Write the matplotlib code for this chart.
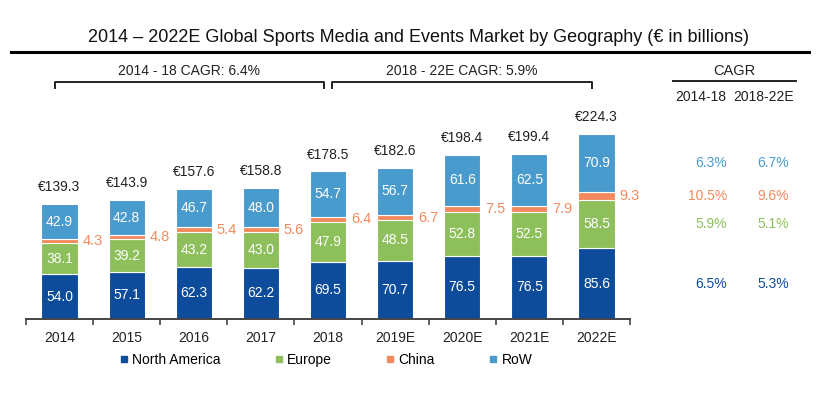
import matplotlib.pyplot as plt
from matplotlib.lines import Line2D
import matplotlib.transforms as mtransforms

plt.rcParams['font.family'] = ['Liberation Sans', 'DejaVu Sans']

years = ["2014", "2015", "2016", "2017", "2018", "2019E", "2020E", "2021E", "2022E"]
north_america = [54.0, 57.1, 62.3, 62.2, 69.5, 70.7, 76.5, 76.5, 85.6]
europe = [38.1, 39.2, 43.2, 43.0, 47.9, 48.5, 52.8, 52.5, 58.5]
china = [4.3, 4.8, 5.4, 5.6, 6.4, 6.7, 7.5, 7.9, 9.3]
row = [42.9, 42.8, 46.7, 48.0, 54.7, 56.7, 61.6, 62.5, 70.9]
totals = [139.3, 143.9, 157.6, 158.8, 178.5, 182.6, 198.4, 199.4, 224.3]

cagr_1418 = {"RoW": "6.3%", "China": "10.5%", "Europe": "5.9%", "North America": "6.5%"}
cagr_1822 = {"RoW": "6.7%", "China": "9.6%", "Europe": "5.1%", "North America": "5.3%"}

c_na = "#0D4C9B"
c_eu = "#8DC05B"
c_cn = "#F28A5E"
c_row = "#4A9BCD"

W, H = 838, 394
fig = plt.figure(figsize=(W / 100, H / 100), dpi=100)
# axes: baseline at y=319px, x from 26 to 630px
ax = fig.add_axes([26 / W, 1 - 319 / H, 604 / W, 267 / H])
ax.set_xlim(-0.5, 8.5)
ax.set_ylim(0, 267 / 0.827)

x = list(range(len(years)))
w = 0.54
bot2 = [a + b for a, b in zip(north_america, europe)]
bot3 = [a + b for a, b in zip(bot2, china)]

ax.bar(x, north_america, w, color=c_na, edgecolor="white", lw=0.8)
ax.bar(x, europe, w, bottom=north_america, color=c_eu, edgecolor="white", lw=0.8)
ax.bar(x, china, w, bottom=bot2, color=c_cn, edgecolor="white", lw=0.8)
ax.bar(x, row, w, bottom=bot3, color=c_row, edgecolor="white", lw=0.8)

for i in x:
    ax.text(i, north_america[i] / 2, f"{north_america[i]:.1f}", ha="center", va="center",
            color="white", fontsize=10)
    ax.text(i, north_america[i] + europe[i] / 2, f"{europe[i]:.1f}", ha="center", va="center",
            color="white", fontsize=10)
    ax.text(i + w / 2 + 0.07, bot2[i] + china[i] / 2, f"{china[i]:.1f}", ha="left", va="center",
            color=c_cn, fontsize=10.5)
    ax.text(i, bot3[i] + row[i] / 2, f"{row[i]:.1f}", ha="center", va="center",
            color="white", fontsize=10)
    ax.annotate(f"€{totals[i]:.1f}", (i, totals[i]), xytext=(0, 7), textcoords="offset points",
                ha="center", va="bottom", fontsize=10, color="#222222")

for s in ["top", "right", "left"]:
    ax.spines[s].set_visible(False)
ax.spines["bottom"].set_color("#444444")
ax.spines["bottom"].set_linewidth(1.4)
ax.set_yticks([])
ax.set_xticks(x)
ax.set_xticklabels(years, fontsize=10, color="#222222")
ax.tick_params(axis="x", which="major", length=0, pad=9)
ax.set_xticks([i - 0.5 for i in range(len(years) + 1)], minor=True)
ax.tick_params(axis="x", which="minor", length=4, width=1.2, color="#444444", direction="out")

# CAGR brackets
def bracket(x0, x1, label):
    ytop, ybot = 286.5, 279
    ax.plot([x0, x0, x1, x1], [ybot, ytop, ytop, ybot], color="#222222", lw=1.4, clip_on=False)
    ax.text((x0 + x1) / 2, 300, label, ha="center", va="center", fontsize=10, color="#222222")

bracket(-0.07, 3.94, "2014 - 18 CAGR: 6.4%")
bracket(4.06, 7.93, "2018 - 22E CAGR: 5.9%")

# title and rule
fig.text(418 / W, 1 - 38 / H, "2014 – 2022E Global Sports Media and Events Market by Geography (€ in billions)",
         ha="center", va="center", fontsize=13, color="#111111")
fig.add_artist(Line2D([11 / W, 809 / W], [1 - 52 / H, 1 - 52 / H], color="black", lw=2.2))

# CAGR table on the right, rows aligned with 2022E segments
fig.text(734 / W, 1 - 71 / H, "CAGR", ha="center", va="center", fontsize=10.5, color="#222222")
fig.add_artist(Line2D([673 / W, 796 / W], [1 - 81 / H, 1 - 81 / H], color="#222222", lw=1.4))
fig.text(701 / W, 1 - 97 / H, "2014-18", ha="center", va="center", fontsize=10, color="#222222")
fig.text(764 / W, 1 - 97 / H, "2018-22E", ha="center", va="center", fontsize=10, color="#222222")

trans = mtransforms.blended_transform_factory(fig.transFigure, ax.transData)
last = len(years) - 1
rows = [
    ("RoW", bot3[last] + row[last] / 2, c_row),
    ("China", bot2[last] + china[last] / 2, c_cn),
    ("Europe", north_america[last] + europe[last] / 2, c_eu),
    ("North America", north_america[last] / 2, c_na),
]
for name, yv, col in rows:
    fig.text(727 / W, yv, cagr_1418[name], transform=trans, ha="right", va="center",
             fontsize=10, color=col)
    fig.text(789 / W, yv, cagr_1822[name], transform=trans, ha="right", va="center",
             fontsize=10, color=col)

# legend
handles = [Line2D([], [], marker="s", ls="", color=c, markersize=4) for c in [c_na, c_eu, c_cn, c_row]]
fig.legend(handles, ["North America", "Europe", "China", "RoW"], loc="center",
           bbox_to_anchor=(326 / W, 1 - 360 / H), ncol=4, frameon=False, fontsize=10,
           columnspacing=3.9, handlelength=0.6, handletextpad=0.3)

fig.savefig("out.png", dpi=100)
